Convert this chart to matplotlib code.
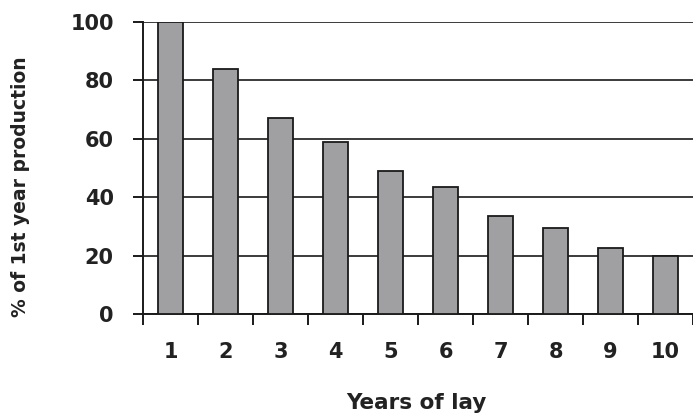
import matplotlib
matplotlib.use("Agg")
import matplotlib.pyplot as plt
import numpy as np

years = ["1", "2", "3", "4", "5", "6", "7", "8", "9", "10"]
pct = [100, 84, 67, 59, 49, 43.5, 33.5, 29.5, 22.7, 20]
yticks = [0, 20, 40, 60, 80, 100]

plt.rcParams['font.family'] = ['DejaVu Sans']
plt.rcParams['font.weight'] = 'bold'

fig = plt.figure(figsize=(6.93, 4.16), dpi=100)
ax = fig.add_axes([143/693, 1 - 314/416, 1 - 143/693, (314 - 22)/416])

x = np.arange(1, len(years) + 1)
ax.bar(x, pct, width=0.44, color='#a0a0a2', edgecolor='#1a1a1a', linewidth=1.3, zorder=3)

ax.set_xlim(0.5, len(years) + 0.5)
ax.set_ylim(0, 100)
ax.set_yticks(yticks)
ax.set_yticklabels([str(v) for v in yticks], fontsize=15, fontweight='bold', color='#222222')
ax.yaxis.grid(True, color='#1a1a1a', linewidth=1.2, zorder=0)
ax.set_axisbelow(True)

ax.set_xticks(x)
ax.set_xticklabels(years, fontsize=15, fontweight='bold', color='#222222')
ax.tick_params(axis='x', which='major', length=0, pad=20)
ax.set_xticks(np.arange(0.5, len(years) + 1, 1), minor=True)
ax.tick_params(axis='x', which='minor', length=8, width=1.4, direction='out', color='#1a1a1a')
ax.tick_params(axis='y', length=7, width=1.4, direction='out', color='#1a1a1a', pad=14)

for s in ['top', 'right']:
    ax.spines[s].set_visible(False)
for s in ['left', 'bottom']:
    ax.spines[s].set_linewidth(1.4)
    ax.spines[s].set_color('#1a1a1a')

fig.text(21/693, 1 - 187/416, "% of 1st year production", rotation=90,
         ha='center', va='center', fontsize=13.5, fontweight='bold', color='#222222')
fig.text(416/693, 1 - 403/416, "Years of lay", ha='center', va='center',
         fontsize=15.5, fontweight='bold', color='#222222')

fig.savefig("out.png", dpi=100)
